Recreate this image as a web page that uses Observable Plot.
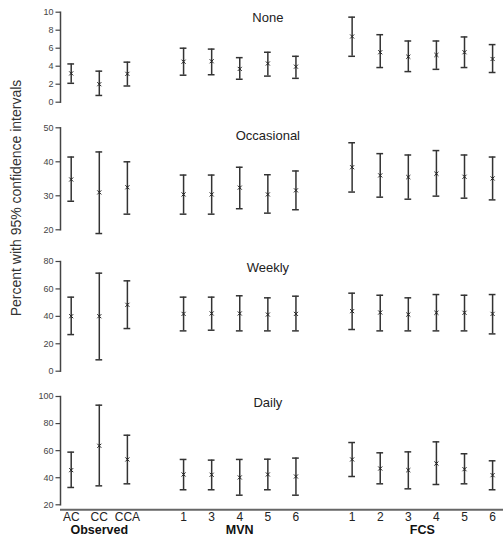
<!DOCTYPE html>
<html>
<head>
<meta charset="utf-8">
<script src="https://cdn.jsdelivr.net/npm/d3@7"></script>
<script src="https://cdn.jsdelivr.net/npm/@observablehq/plot@0.6"></script>
<style>
  body { margin: 0; background: white; }
  #wrap { position: relative; width: 503px; height: 536px; overflow: hidden; background: white;
          font-family: "Liberation Sans", Arial, sans-serif; }
  .panel { position: absolute; left: 0; }
  #ylab { position: absolute; left: 16px; top: 198px; transform: translate(-50%, -50%) rotate(-90deg);
          white-space: nowrap; font-size: 14px; color: #333; }
</style>
</head>
<body>
<div id="wrap"><div id="ylab">Percent with 95% confidence intervals</div></div>
<script>
// Categories and positions on the x axis (gaps between groups)
const categories = ["AC","CC","CCA","1","3","4","5","6","1","2","3","4","5","6"];
const positions  = [0, 1, 2, 4, 5, 6, 7, 8, 10, 11, 12, 13, 14, 15];
const groups = ["Observed", "MVN", "FCS"];
const groupPositions = [1, 6, 12.5];

// Panel titles and y ticks
const titles = ["None", "Occasional", "Weekly", "Daily"];
const yTicks = [[0,2,4,6,8,10], [20,30,40,50], [0,20,40,60,80], [20,40,60,80,100]];
const yDomains = [[0,10], [20,50], [0,80], [20,100]];

// None
const noneEst = [3.2, 2.0, 3.15, 4.5, 4.55, 3.7, 4.3, 3.95, 7.3, 5.55, 5.05, 5.25, 5.55, 4.8];
const noneLo  = [2.1, 0.75, 1.8, 3.0, 3.05, 2.55, 2.9, 2.65, 5.1, 3.85, 3.4, 3.65, 3.85, 3.3];
const noneHi  = [4.25, 3.45, 4.45, 6.0, 5.9, 4.95, 5.55, 5.1, 9.45, 7.5, 6.8, 6.8, 7.25, 6.4];
// Occasional
const occEst = [34.8, 31.0, 32.5, 30.4, 30.4, 32.4, 30.4, 31.6, 38.4, 36.0, 35.5, 36.5, 35.6, 35.1];
const occLo  = [28.4, 18.9, 24.6, 24.6, 24.6, 26.2, 24.9, 25.9, 31.1, 29.6, 29.0, 29.9, 29.3, 28.8];
const occHi  = [41.4, 42.9, 40.0, 36.1, 36.1, 38.4, 36.2, 37.3, 45.6, 42.4, 42.0, 43.3, 42.0, 41.4];
// Weekly
const weekEst = [40.1, 40.1, 48.4, 41.8, 42.1, 42.1, 41.3, 41.8, 43.8, 42.8, 41.3, 42.6, 42.6, 41.8];
const weekLo  = [26.7, 8.3, 31.1, 29.4, 29.9, 29.4, 29.4, 29.4, 30.4, 29.4, 29.4, 29.4, 29.4, 27.2];
const weekHi  = [54.0, 71.5, 65.9, 54.0, 54.0, 55.0, 53.5, 54.7, 56.9, 55.4, 53.5, 55.9, 55.4, 55.9];
// Daily
const dailyEst = [45.6, 63.6, 53.5, 42.4, 42.2, 40.2, 42.4, 40.9, 53.5, 46.8, 45.6, 50.5, 46.3, 41.9];
const dailyLo  = [32.8, 34.0, 35.5, 31.1, 31.1, 27.1, 31.1, 27.1, 40.9, 35.5, 31.8, 35.0, 35.5, 31.1];
const dailyHi  = [58.9, 93.6, 71.4, 53.5, 53.0, 53.5, 53.7, 54.5, 66.0, 58.4, 59.1, 66.5, 57.7, 52.5];

const series = [[noneEst, noneLo, noneHi], [occEst, occLo, occHi], [weekEst, weekLo, weekHi], [dailyEst, dailyLo, dailyHi]];

// layout of the stacked panels
const layout = [
  {top: 0,   height: 110, mt: 11.7, mb: 8.3,  titleDy: 5.3},
  {top: 110, height: 130, mt: 17.3, mb: 10.7, titleDy: 7.7},
  {top: 240, height: 135, mt: 21,   mb: 4.3,  titleDy: 6.7},
  {top: 375, height: 161, mt: 21,   mb: 31.7, titleDy: 6}
];

const wrap = document.getElementById("wrap");
const capHalf = 0.12;
const ink = "#333";

series.forEach(([est, lo, hi], p) => {
  const data = categories.map((c, i) => ({x: positions[i], label: c, est: est[i], lo: lo[i], hi: hi[i]}));
  const L = layout[p];
  const marks = [
    Plot.frame({anchor: "left", stroke: "#444", strokeWidth: 1.5}),
    Plot.axisY({ticks: yTicks[p], tickSize: 4.5, tickPadding: 2.5, fontSize: 9, label: null, stroke: "#444", strokeWidth: 1.2, fill: "#444"}),
    Plot.ruleX(data, {x: "x", y1: "lo", y2: "hi", stroke: ink, strokeWidth: 1.5}),
    Plot.ruleY(data, {y: "hi", x1: d => d.x - capHalf, x2: d => d.x + capHalf, stroke: ink, strokeWidth: 1.5}),
    Plot.ruleY(data, {y: "lo", x1: d => d.x - capHalf, x2: d => d.x + capHalf, stroke: ink, strokeWidth: 1.5}),
    Plot.dot(data, {x: "x", y: "est", symbol: "times", r: 2, stroke: "#222", strokeWidth: 1}),
    Plot.text([titles[p]], {x: () => 7, text: d => d, frameAnchor: "top", lineAnchor: "middle", dy: L.titleDy, fontSize: 13, fill: "#222"})
  ];
  if (p === 3) {
    marks.push(
      Plot.ruleY([yDomains[p][0]], {dy: 5, stroke: "#666", strokeWidth: 2}),
      Plot.text(data, {x: "x", text: "label", frameAnchor: "bottom", lineAnchor: "middle", dy: 12.5, fontSize: 12, fill: "#222"}),
      Plot.text(groups.map((g, i) => ({g, x: groupPositions[i]})), {x: "x", text: "g", frameAnchor: "bottom", lineAnchor: "middle", dy: 24.8, fontSize: 12.5, fontWeight: "bold", fill: "#111"})
    );
  }
  const chart = Plot.plot({
    width: 503,
    height: L.height,
    marginTop: L.mt,
    marginBottom: L.mb,
    marginLeft: 60,
    marginRight: 0,
    x: {domain: [-0.381, 15.388], axis: null},
    y: {domain: yDomains[p], axis: null},
    style: {fontFamily: "'Liberation Sans', Arial, sans-serif", fontSize: "9px", color: "#333", background: "transparent", overflow: "visible"},
    marks
  });
  chart.classList.add("panel");
  chart.style.top = L.top + "px";
  wrap.appendChild(chart);
});
</script>
</body>
</html>
